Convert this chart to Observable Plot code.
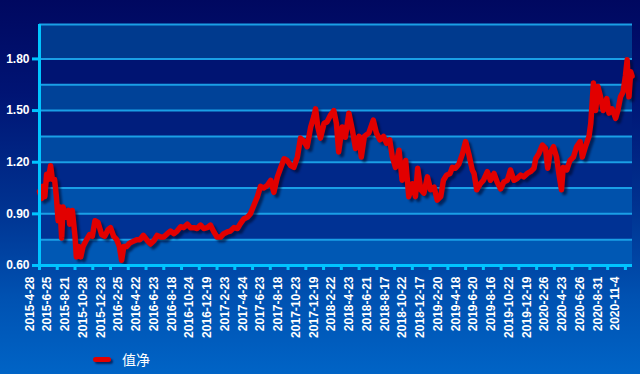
<!DOCTYPE html>
<html><head><meta charset="utf-8">
<script src="https://cdn.jsdelivr.net/npm/d3@7"></script>
<script src="https://cdn.jsdelivr.net/npm/@observablehq/plot@0.6"></script>
<style>
html,body{margin:0;padding:0;background:#000860;}
#chart{position:relative;width:640px;height:374px;overflow:hidden;
  background:linear-gradient(to bottom,#000860 0%,#001474 25%,#003290 55%,#0052b2 80%,#0064c6 100%);
  font-family:"Liberation Sans",Arial,sans-serif;}
#chart svg{position:absolute;left:0;top:0;}
#legend{position:absolute;left:93px;top:349px;display:flex;align-items:center;color:#fff;
  font-family:"Noto Sans CJK SC",sans-serif;font-size:14px;line-height:20px;}
#legend .swatch{width:18px;height:5px;background:#e00000;border-radius:3px;
  box-shadow:2px 2px 2px rgba(0,0,40,0.6);margin-right:11px;}
</style></head>
<body><div id="chart"><div id="legend"><span class="swatch"></span><span>值净</span></div></div>
<script>
const tickLabels = ["2015-4-28","2015-6-25","2015-8-21","2015-10-28","2015-12-23","2016-2-25","2016-4-22","2016-6-23","2016-8-18","2016-10-24","2016-12-19","2017-2-23","2017-4-24","2017-6-23","2017-8-18","2017-10-23","2017-12-19","2018-2-22","2018-4-23","2018-6-21","2018-8-17","2018-10-22","2018-12-17","2019-2-20","2019-4-18","2019-6-20","2019-8-16","2019-10-22","2019-12-19","2020-2-26","2020-4-23","2020-6-26","2020-8-31","2020-11-4"];
const ticksPerLabel = 40; // trading days between labels
const lastDay = 1336;

const day = [0,5,8,12,16,20,25,29,34,38,42,46,50,53,59,65,68,74,80,83,89,93,98,106,113,119,125,132,140,147,155,160,167,174,180,185,190,196,203,211,219,226,234,243,250,258,265,273,280,288,295,303,310,318,325,333,340,348,355,363,370,378,385,393,400,408,415,423,430,438,446,453,460,468,475,483,491,498,505,513,521,528,536,543,551,558,566,573,581,588,596,603,611,618,622,627,633,641,648,656,663,669,674,682,689,697,705,712,720,725,732,742,752,759,767,775,782,789,795,802,810,817,825,832,840,847,852,859,866,874,881,889,896,904,910,917,925,930,937,945,953,960,967,975,979,985,993,1000,1009,1016,1024,1031,1039,1046,1054,1061,1069,1076,1084,1091,1099,1106,1114,1118,1125,1133,1140,1145,1150,1158,1165,1170,1176,1180,1188,1195,1203,1210,1218,1223,1230,1238,1242,1248,1253,1258,1264,1270,1278,1283,1290,1298,1303,1309,1315,1320,1324,1328,1332,1335];
const nav = [1.03,0.99,1.06,1.00,1.13,1.10,1.18,1.10,1.10,1.00,0.86,0.94,0.76,0.94,0.88,0.92,0.84,0.92,0.77,0.65,0.71,0.65,0.71,0.75,0.78,0.77,0.86,0.85,0.78,0.77,0.81,0.82,0.77,0.75,0.71,0.63,0.71,0.71,0.73,0.74,0.75,0.75,0.775,0.745,0.725,0.745,0.775,0.765,0.765,0.785,0.80,0.785,0.80,0.825,0.82,0.84,0.82,0.82,0.815,0.835,0.815,0.82,0.835,0.795,0.765,0.765,0.785,0.795,0.80,0.82,0.815,0.845,0.87,0.88,0.90,0.95,1.00,1.06,1.05,1.065,1.095,1.025,1.115,1.165,1.22,1.21,1.18,1.17,1.23,1.34,1.32,1.29,1.405,1.465,1.51,1.405,1.34,1.425,1.435,1.475,1.50,1.425,1.26,1.405,1.345,1.485,1.385,1.28,1.35,1.23,1.35,1.37,1.445,1.37,1.33,1.35,1.31,1.33,1.23,1.17,1.27,1.095,1.21,1.00,1.075,1.00,1.165,1.04,1.02,1.115,1.04,1.055,0.98,1.00,1.095,1.125,1.135,1.17,1.165,1.19,1.25,1.32,1.25,1.155,1.135,1.04,1.075,1.095,1.145,1.095,1.135,1.085,1.045,1.085,1.095,1.155,1.095,1.105,1.125,1.115,1.135,1.145,1.165,1.22,1.25,1.30,1.28,1.165,1.25,1.29,1.23,1.135,1.04,1.17,1.155,1.21,1.23,1.29,1.32,1.23,1.29,1.35,1.425,1.66,1.50,1.64,1.58,1.50,1.57,1.485,1.51,1.455,1.50,1.58,1.61,1.70,1.795,1.58,1.725,1.70];

const yTicks = [0.6, 0.9, 1.2, 1.5, 1.8];
const gridValues = [0.6, 0.75, 0.9, 1.05, 1.2, 1.35, 1.5, 1.65, 1.8, 2.0];
const seriesName = "值净";

const series = day.map((d, i) => ({day: d, nav: nav[i]}));
const tickDays = tickLabels.map((_, i) => i * ticksPerLabel);

const lightCol = d3.interpolateRgb("#003a8e", "#0058b4");
const darkCol = d3.interpolateRgb("#000f6c", "#00379a");
const bands = [];
for (let i = 0; i < gridValues.length - 1; i++) {
  const t = 1 - i / (gridValues.length - 2);
  bands.push({lo: gridValues[i], hi: gridValues[i + 1], color: i % 2 === 0 ? lightCol(t) : darkCol(t)});
}

const axisCol = "#00c4ff";
const gridCol = "#1a9fe6";

const plot = Plot.plot({
  width: 640,
  height: 335,
  marginLeft: 39,
  marginRight: 8,
  marginTop: 24,
  marginBottom: 70,
  style: {background: "transparent", color: "white", fontFamily: "'Liberation Sans', Arial, sans-serif", fontSize: "12px", fontWeight: "bold", overflow: "visible"},
  x: {domain: [0, lastDay], axis: null},
  y: {domain: [gridValues[0], gridValues[gridValues.length - 1]], axis: null},
  color: {type: "identity"},
  marks: [
    Plot.rect(bands, {y1: "lo", y2: "hi", fill: "color"}),
    Plot.ruleY(gridValues.slice(1), {stroke: gridCol, strokeWidth: 2}),
    Plot.line(series, {x: "day", y: "nav", stroke: "#000628", strokeOpacity: 0.6, strokeWidth: 5, dx: 3, dy: 3}),
    Plot.line(series, {x: "day", y: "nav", stroke: "#e20000", strokeWidth: 5.5}),
    Plot.ruleX([0], {stroke: axisCol, strokeWidth: 3}),
    Plot.ruleY([gridValues[0]], {stroke: axisCol, strokeWidth: 3}),
    Plot.axisY({ticks: yTicks, label: null, tickSize: 7, tickPadding: 3, tickFormat: d3.format(".2f"), stroke: axisCol, strokeWidth: 3, fill: "white", fontSize: 12, fontWeight: "bold"}),
    Plot.axisX({ticks: tickDays, label: null, tickSize: 5, tickFormat: () => "", stroke: axisCol, strokeWidth: 3}),
    Plot.text(tickDays, {x: d => d, frameAnchor: "bottom", text: (d, i) => tickLabels[i], rotate: -90, textAnchor: "end", lineAnchor: "bottom", dy: 11, dx: -6, fill: "white", fontSize: 12, fontWeight: "bold"})
  ]
});
const lines = plot.querySelectorAll('g[aria-label="line"]');
if (lines.length) lines[0].style.filter = "blur(1.3px)";
document.getElementById("chart").prepend(plot);
</script>
</body></html>
